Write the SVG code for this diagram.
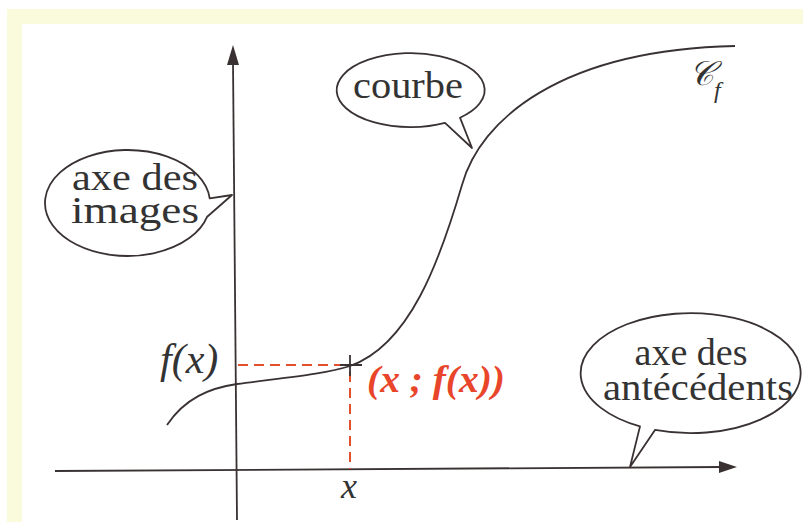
<svg xmlns="http://www.w3.org/2000/svg" width="803" height="522" viewBox="0 0 803 522">
<style>
.ln{fill:none;stroke:#3a3232;stroke-width:1.8}
.bal{fill:#fff;stroke:#3a3232;stroke-width:1.8;stroke-linejoin:round}
.lbl{font-family:"Liberation Serif","Times New Roman",serif;font-size:37px;fill:#333;text-anchor:middle}
.math{font-family:"Liberation Serif","Times New Roman",serif;font-style:italic;fill:#333}
.dash{fill:none;stroke:#e2502e;stroke-width:2;stroke-dasharray:10 6}
.red{font-family:"Liberation Serif","Times New Roman",serif;font-style:italic;font-weight:bold;font-size:38px;fill:#e8452a}
</style>
<rect x="0" y="0" width="803" height="522" fill="#ffffff"/>
<rect x="7" y="9" width="796" height="15" fill="#fafadc"/>
<rect x="7" y="9" width="15" height="513" fill="#fafadc"/>
<g id="connectors">
<line class="ln" x1="55" y1="471" x2="722" y2="467"/>
<polygon points="737,467 719,461 719,473" fill="#3a3232"/>
<line class="ln" x1="237" y1="520" x2="233" y2="62"/>
<polygon points="233,45 227,65 239,65" fill="#3a3232"/>
<path class="dash" d="M238,365 H348"/>
<path class="dash" d="M350,372 V469"/>
<path class="ln" d="M340,365 H362 M350,355 V376"/>
<path class="ln" d="M167,425 C185,398 210,388 237,384 C290,377 325,374 350,366 C410,345 440,260 462,185 C480,120 560,50 735,46"/>
</g>
<g id="axe-images">
<path class="bal" d="M209.7,198.4 L232,195 L207.2,216.7 A82.5,53 0 1 1 209.7,198.4 Z"/>
<text class="lbl" x="135" y="190" textLength="126" lengthAdjust="spacingAndGlyphs">axe des</text>
<text class="lbl" x="135" y="223" textLength="128" lengthAdjust="spacingAndGlyphs">images</text>
</g>
<g id="courbe">
<path class="bal" d="M445,122.9 L472,148 L460,117.7 A74,37 0 1 0 445,122.9 Z"/>
<text class="lbl" x="408" y="98" textLength="110" lengthAdjust="spacingAndGlyphs">courbe</text>
</g>
<g id="axe-antecedents">
<path class="bal" d="M640,426.4 L630,467 L655,429.9 A110,60 0 1 0 640,426.4 Z"/>
<text class="lbl" x="691" y="365" textLength="113" lengthAdjust="spacingAndGlyphs">axe des</text>
<text class="lbl" x="698" y="400" textLength="190" lengthAdjust="spacingAndGlyphs">antécédents</text>
</g>
<g id="labels">
<text class="math" x="160" y="373" font-size="42">f(x)</text>
<text class="math" x="349" y="498" font-size="36" text-anchor="middle">x</text>
<text class="red" x="367" y="392" textLength="138" lengthAdjust="spacingAndGlyphs">(x ; f(x))</text>
<text class="math" x="689" y="85" font-size="34">𝒞</text>
<text class="math" x="714" y="98" font-size="24">f</text>
</g>
</svg>
